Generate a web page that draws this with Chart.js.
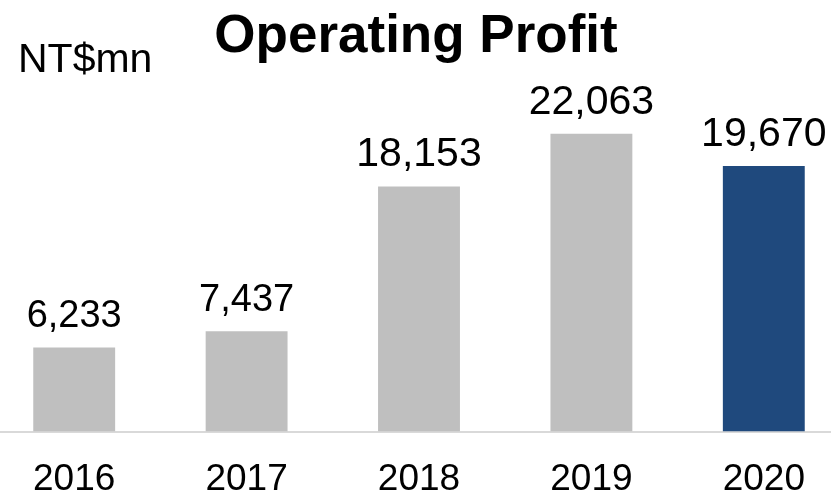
<!DOCTYPE html>
<html>
<head>
<meta charset="utf-8">
<script src="https://cdn.jsdelivr.net/npm/chart.js@4/dist/chart.umd.min.js"></script>
<style>
  html, body { margin: 0; padding: 0; background: #fff; overflow: hidden; width: 831px; height: 493px; }
  #wrap { position: absolute; left: -12px; top: 0; width: 862px; height: 528px; }
</style>
</head>
<body>
<div id="wrap"><canvas id="profitChart"></canvas></div>
<script>
// data
const years = ["2016", "2017", "2018", "2019", "2020"];
const profit = [6233, 7437, 18153, 22063, 19670];
const barColors = ["#bfbfbf", "#bfbfbf", "#bfbfbf", "#bfbfbf", "#1f497d"];

const FONT = "'Liberation Sans', Arial, sans-serif";
const OFFSET = 12; // canvas shifted left

/* value labels + title + unit */
const labelsPlugin = {
  id: "labels",
  afterDatasetsDraw(chart) {
    const ctx = chart.ctx;
    const meta = chart.getDatasetMeta(0);
    ctx.save();
    ctx.fillStyle = "#000";
    ctx.textAlign = "center";
    ctx.textBaseline = "alphabetic";
    meta.data.forEach((bar, i) => {
      ctx.font = (profit[i] >= 10000 ? "41px " : "38px ") + FONT;
      ctx.fillText(profit[i].toLocaleString("en-US"), bar.x, bar.y - 20);
    });

    ctx.font = "bold 53px " + FONT;
    ctx.fillText("Operating Profit", 416 + OFFSET, 52);

    ctx.font = "41px " + FONT;
    ctx.textAlign = "left";
    ctx.fillText("NT$mn", 18 + OFFSET, 72);
    ctx.restore();
  }
};

new Chart(document.getElementById("profitChart"), {
  type: "bar",
  data: {
    labels: years,
    datasets: [{
      data: profit,
      backgroundColor: barColors,
      barPercentage: 0.475,
      categoryPercentage: 1
    }]
  },
  options: {
    responsive: true,
    maintainAspectRatio: false,
    animation: false,
    layout: { padding: { top: 94, left: 0, right: 0, bottom: 0 } },
    plugins: { legend: { display: false }, tooltip: { enabled: false } },
    scales: {
      x: {
        grid: { display: false, drawTicks: false },
        border: { display: true, color: "#d9d9d9", width: 2 },
        ticks: { color: "#000", font: { size: 37, family: FONT }, padding: 26 }
      },
      y: {
        display: false,
        min: 0,
        max: 25000
      }
    }
  },
  plugins: [labelsPlugin]
});
</script>
</body>
</html>
